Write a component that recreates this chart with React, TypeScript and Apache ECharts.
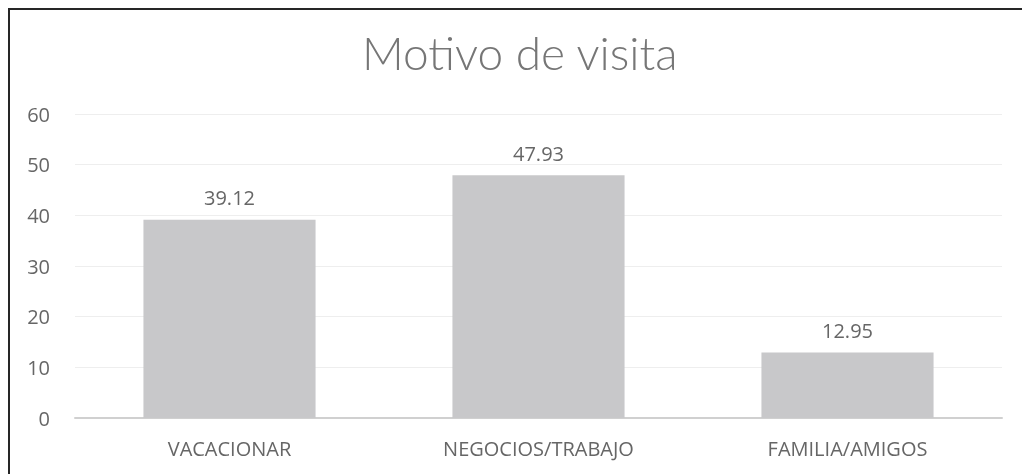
import React, { useEffect, useRef } from "react";
import * as echarts from "echarts";

const categories = ["VACACIONAR", "NEGOCIOS/TRABAJO", "FAMILIA/AMIGOS"];
const values = [39.12, 47.93, 12.95];
const titleText = "Motivo de visita";
const yMin = 0;
const yMax = 60;
const yStep = 10;

export default function App() {
  const ref = useRef<HTMLDivElement>(null);
  useEffect(() => {
    if (!ref.current) return;
    const chart = echarts.init(ref.current, null, { renderer: "svg" });
    chart.setOption({
      animation: false,
      title: {
        text: titleText,
        left: 347,
        top: 14,
        textStyle: {
          fontFamily: "Lato",
          fontWeight: 300,
          fontSize: 46,
          color: "#767676",
        },
      },
      grid: { left: 65, right: 20, top: 104, bottom: 56 },
      xAxis: {
        type: "category",
        data: categories,
        axisLine: { lineStyle: { color: "#d0d0d0", width: 2 } },
        axisTick: { show: false },
        axisLabel: {
          fontFamily: "Open Sans",
          fontSize: 20,
          color: "#666",
          margin: 20,
        },
      },
      yAxis: {
        type: "value",
        min: yMin,
        max: yMax,
        interval: yStep,
        axisLine: { show: false },
        axisTick: { show: false },
        splitLine: { lineStyle: { color: "#eeeeee", width: 1 } },
        axisLabel: {
          fontFamily: "Open Sans",
          fontSize: 20,
          color: "#666",
          margin: 25,
        },
      },
      series: [
        {
          type: "bar",
          data: values,
          barWidth: "55.7%",
          itemStyle: { color: "#c8c8ca" },
          label: {
            show: true,
            position: "top",
            distance: 12,
            fontFamily: "Open Sans",
            fontSize: 20,
            color: "#666",
            formatter: (p: any) => p.value.toFixed(2),
          },
        },
      ],
    });
    return () => chart.dispose();
  }, []);
  return (
    <div
      style={{
        position: "fixed",
        left: 8,
        top: 8,
        width: 1014,
        height: 466,
        borderTop: "2px solid #262626",
        borderLeft: "2px solid #262626",
        boxSizing: "border-box",
        overflow: "hidden",
      }}
    >
      <div ref={ref} style={{ width: 1012, height: 464 }} />
    </div>
  );
}
